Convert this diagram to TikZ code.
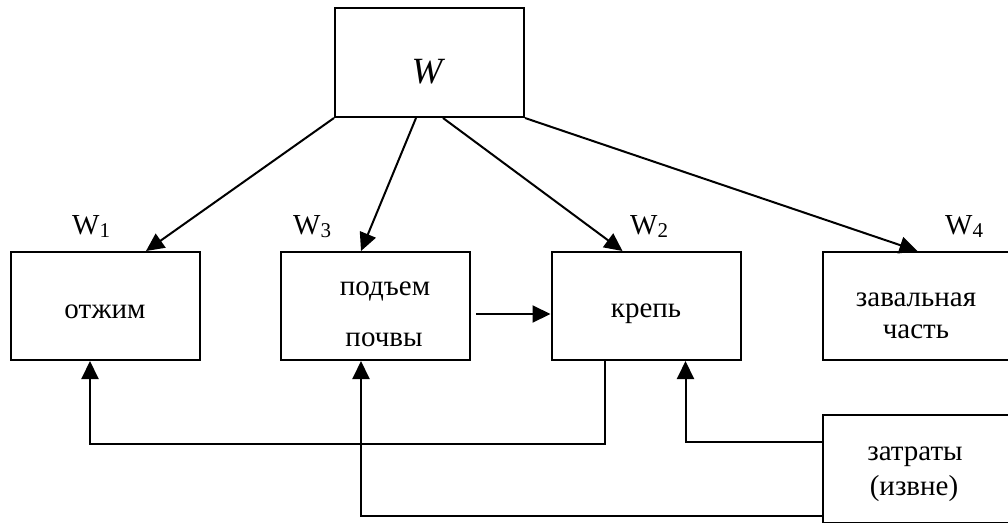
\documentclass[tikz,border=0pt]{standalone}
\usepackage{fontspec}
\setmainfont{Liberation Serif}
\usetikzlibrary{arrows.meta}
\begin{document}
\begin{tikzpicture}[x=1pt,y=-1pt,
  blk/.style={draw,line width=2pt,minimum width=189pt,minimum height=108pt,inner sep=0pt},
  txt/.style={font=\fontsize{29}{35}\selectfont,anchor=base,inner sep=0pt},
  lbl/.style={font=\fontsize{29}{35}\selectfont,anchor=base west,inner sep=0pt},
  conn/.style={line width=2pt,-{Triangle[length=18pt,width=17pt]}}]
\newcommand{\wsub}[1]{W\raisebox{-3pt}{\fontsize{21}{21}\selectfont #1}}
\useasboundingbox (0,0) rectangle (1008,522);
\clip (0,0) rectangle (1008,522);

% boxes
\node[blk,minimum height=109pt] (w)  at (429.5,62.5) {};
\node[blk] (b1) at (105.5,306) {};
\node[blk] (b3) at (375.5,306) {};
\node[blk] (b2) at (646,306) {};
\node[blk] (b4) at (917,306) {};
\node[blk] (b5) at (917,469) {};

% texts
\node[txt,font=\fontsize{37}{40}\selectfont\itshape] (tw) at (427,83) {W};
\node[txt] (t1) at (105,318) {отжим};
\node[txt] (t3a) at (385,295) {подъем};
\node[txt] (t3b) at (384,346) {почвы};
\node[txt] (t2) at (646,317) {крепь};
\node[txt] (t4a) at (916,306) {завальная};
\node[txt] (t4b) at (916,338) {часть};
\node[txt] (t5a) at (915,460) {затраты};
\node[txt] (t5b) at (914,495) {(извне)};

% labels above boxes
\node[lbl] (l1) at (72,234) {\wsub{1}};
\node[lbl] (l3) at (293,234) {\wsub{3}};
\node[lbl] (l2) at (630,234) {\wsub{2}};
\node[lbl] (l4) at (945,234) {\wsub{4}};

% distribution from W
\draw[conn] (w.south west) -- ([xshift=136pt]b1.north west);
\draw[conn] ([xshift=82pt]w.south west) -- ([xshift=81pt]b3.north west);
\draw[conn] ([xshift=109pt]w.south west) -- ([xshift=72pt]b2.north west);
\draw[conn] (w.south east) -- ([xshift=96pt]b4.north west);

% подъем -> крепь
\coordinate (h) at (476,314);
\draw[conn] (h) -- (h -| b2.west);

% feedback loops
\draw[conn] ([xshift=54pt]b2.south west) -- ++(0,83) -| ([xshift=80pt]b1.south west);
\draw[conn] ([yshift=-28pt]b5.north west) -| ([xshift=135pt]b2.south west);
\draw[conn] ([yshift=-102pt]b5.north west) -| ([xshift=81pt]b3.south west);
\end{tikzpicture}
\end{document}
